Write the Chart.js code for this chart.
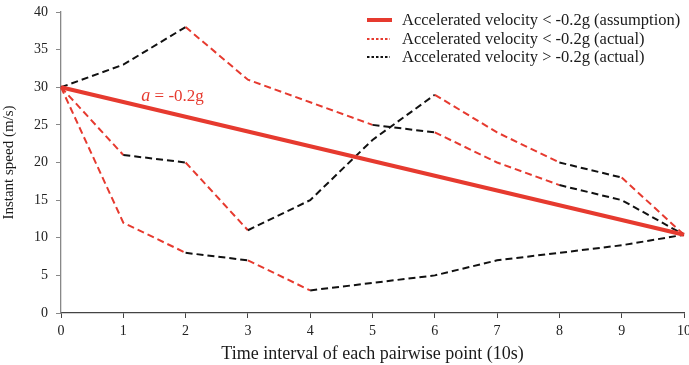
<!DOCTYPE html>
<html>
<head>
<meta charset="utf-8">
<script src="https://cdn.jsdelivr.net/npm/chart.js@4/dist/chart.umd.min.js"></script>
<style>
  html, body { margin: 0; padding: 0; background: #fff; }
  #wrap { width: 689px; height: 365px; position: relative; }
</style>
</head>
<body>
<div id="wrap"><canvas id="c" width="689" height="365"></canvas></div>
<script>
// ---- data ----
const timeLabels = ['0','1','2','3','4','5','6','7','8','9','10'];
const yTicks = [0,5,10,15,20,25,30,35,40];

// assumed constant deceleration (-0.2g): only end points given, straight line between
const assumption = [30, null, null, null, null, null, null, null, null, null, 10.4];

// three observed trajectories
const vehicleA = [30, 33, 38, 31, 28, 25, 24, 20, 17, 15, 10.4];
const vehicleB = [30, 21, 20, 11, 15, 23, 29, 24, 20, 18, 10.4];
const vehicleC = [30, 12, 8, 7, 3, 4, 5, 7, 8, 9, 10.4];

// per-interval classification: '<' = accelerated velocity < -0.2g, '>' = > -0.2g
const classA = ['>','>','<','<','<','>','<','<','>','>'];
const classB = ['<','>','<','>','>','>','<','<','>','<'];
const classC = ['<','<','>','<','>','>','>','>','>','>'];

const legendLabels = [
  'Accelerated velocity < -0.2g (assumption)',
  'Accelerated velocity < -0.2g (actual)',
  'Accelerated velocity > -0.2g (actual)'
];
const annotationText = ['a', ' = -0.2g'];

// ---- style ----
const RED = '#e63a2f';
const BLACK = '#111111';
const SERIF = '"Liberation Serif", "DejaVu Serif", serif';

function segColor(cls) {
  return ctx => cls[ctx.p0DataIndex] === '<' ? RED : BLACK;
}
function dashedSet(data, cls) {
  return {
    data, borderWidth: 2, borderDash: [7, 4], pointRadius: 0, fill: false,
    borderColor: BLACK, tension: 0,
    segment: { borderColor: segColor(cls) }
  };
}

const legendPlugin = {
  id: 'customLegend',
  afterDraw(chart) {
    const ctx = chart.ctx;
    const items = [
      { color: RED, width: 4, dash: [] },
      { color: RED, width: 2, dash: [2.5, 2] },
      { color: BLACK, width: 2, dash: [2.5, 2] }
    ];
    const x0 = 367, x1 = 392, tx = 402, ys = [20, 39, 57];
    ctx.save();
    ctx.font = '16.5px ' + SERIF;
    ctx.textBaseline = 'middle';
    items.forEach((it, i) => {
      ctx.beginPath();
      ctx.setLineDash(it.dash);
      ctx.strokeStyle = it.color;
      ctx.lineWidth = it.width;
      ctx.moveTo(x0, ys[i]);
      ctx.lineTo(i === 0 ? x1 : x1 - 2, ys[i]);
      ctx.stroke();
      ctx.setLineDash([]);
      ctx.fillStyle = '#1a1a1a';
      ctx.fillText(legendLabels[i], tx, ys[i] + 1);
    });
    // annotation
    const xs = chart.scales.x, ysc = chart.scales.y;
    const px = xs.getPixelForValue(1.29);
    const py = ysc.getPixelForValue(28.8);
    ctx.fillStyle = RED;
    ctx.textBaseline = 'middle';
    ctx.font = 'italic 18px ' + SERIF;
    ctx.fillText(annotationText[0], px, py);
    const w = ctx.measureText(annotationText[0]).width;
    ctx.font = '17px ' + SERIF;
    ctx.fillText(annotationText[1], px + w, py);
    ctx.restore();
  }
};

new Chart(document.getElementById('c'), {
  type: 'line',
  data: {
    labels: timeLabels,
    datasets: [
      { data: assumption, borderColor: RED, borderWidth: 4, pointRadius: 0, spanGaps: true, fill: false },
      dashedSet(vehicleA, classA),
      dashedSet(vehicleB, classB),
      dashedSet(vehicleC, classC)
    ]
  },
  options: {
    responsive: false,
    animation: false,
    layout: { padding: { left: 0, right: 5, top: 12, bottom: 0 } },
    plugins: { legend: { display: false }, tooltip: { enabled: false } },
    scales: {
      x: {
        offset: false,
        grid: { display: true, drawOnChartArea: false, drawTicks: true, tickLength: 5, color: '#444' },
        border: { color: '#444', width: 1.3 },
        ticks: { color: '#222', font: { family: SERIF, size: 14 }, padding: 5, maxRotation: 0 },
        title: { display: true, text: 'Time interval of each pairwise point (10s)', color: '#1a1a1a',
                 font: { family: SERIF, size: 18 }, padding: { top: 2, bottom: 0 } },
        afterFit(s) { s.height = 52; s.paddingLeft = 0; s.paddingRight = 0; }
      },
      y: {
        min: 0, max: 40,
        afterBuildTicks(s) { s.ticks = yTicks.map(v => ({ value: v })); },
        grid: { display: true, drawOnChartArea: false, drawTicks: true, tickLength: 5, color: '#888' },
        border: { color: '#888', width: 1.3 },
        ticks: { color: '#222', font: { family: SERIF, size: 14 }, padding: 8 },
        title: { display: true, text: 'Instant speed (m/s)', color: '#1a1a1a',
                 font: { family: SERIF, size: 15 }, padding: { top: 0, bottom: 3 } },
        afterFit(s) { s.width = 61; s.paddingTop = 0; s.paddingBottom = 0; }
      }
    }
  },
  plugins: [legendPlugin]
});
</script>
</body>
</html>
